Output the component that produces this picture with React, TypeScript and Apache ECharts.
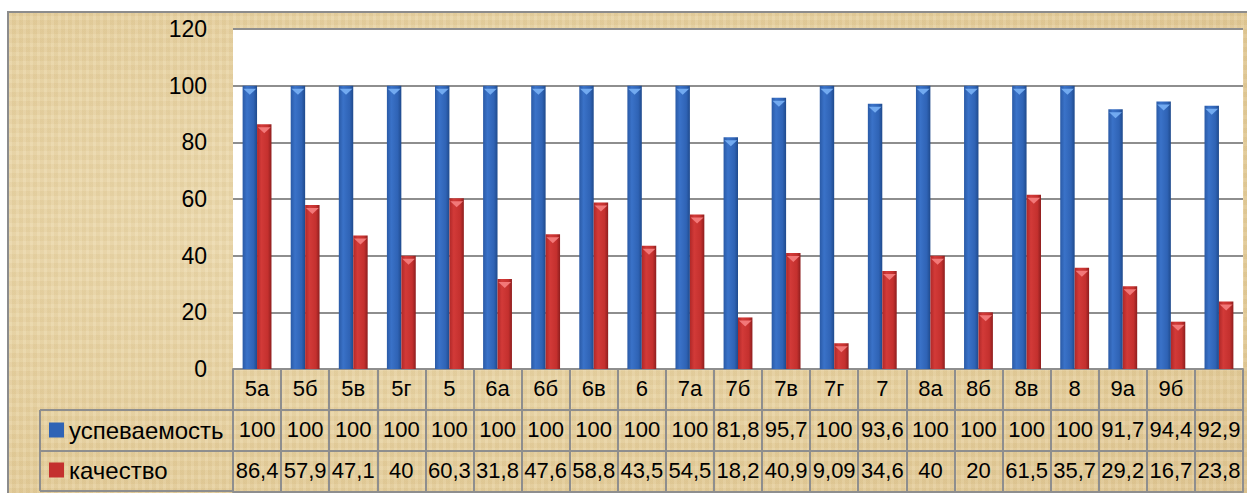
import React, { useEffect, useRef } from "react";
import * as echarts from "echarts";

const categories = ["5а", "5б", "5в", "5г", "5", "6а", "6б", "6в", "6", "7а", "7б", "7в", "7г", "7", "8а", "8б", "8в", "8", "9а", "9б", ""];
const seriesNames = ["успеваемость", "качество"];
const uspev = [100, 100, 100, 100, 100, 100, 100, 100, 100, 100, 81.8, 95.7, 100, 93.6, 100, 100, 100, 100, 91.7, 94.4, 92.9];
const kach = [86.4, 57.9, 47.1, 40, 60.3, 31.8, 47.6, 58.8, 43.5, 54.5, 18.2, 40.9, 9.09, 34.6, 40, 20, 61.5, 35.7, 29.2, 16.7, 23.8];
const yTicks = { min: 0, max: 120, interval: 20 };

const FONT = "Liberation Sans";
const GRID_LINE = "#8e8e8e";

const fmt = (v: number) => String(v).replace(".", ",");

const blueGrad = new echarts.graphic.LinearGradient(0, 0, 1, 0, [
  { offset: 0, color: "#2a5aa6" },
  { offset: 0.3, color: "#3a72c8" },
  { offset: 0.75, color: "#2f63b5" },
  { offset: 1, color: "#1f4a8c" },
]);
const redGrad = new echarts.graphic.LinearGradient(0, 0, 1, 0, [
  { offset: 0, color: "#b02828" },
  { offset: 0.3, color: "#d23a38" },
  { offset: 0.75, color: "#c4302e" },
  { offset: 1, color: "#8e1e1e" },
]);

export default function App() {
  const ref = useRef<HTMLDivElement>(null);
  useEffect(() => {
    if (!ref.current) return;
    const chart = echarts.init(ref.current, null, { renderer: "svg" });
    const gridLeft = 233;
    const gridRight = 4;
    const gridTop = 29;
    const gridBottomY = 369;
    const H = 493;
    const rowH = 41;
    const textStyle = { fontFamily: FONT, color: "#000" };
    const tableAxis = (idx: number, values: string[] | null) => ({
      type: "category",
      data: categories,
      position: "bottom",
      gridIndex: 0,
      offset: idx * rowH,
      boundaryGap: true,
      axisLine: { show: true, lineStyle: { color: GRID_LINE, width: 2 } },
      axisTick: {
        show: values !== null || idx < 3,
        interval: 0,
        length: idx < 3 ? rowH : 0,
        lineStyle: { color: GRID_LINE, width: 2 },
      },
      axisLabel: {
        show: values !== null,
        interval: 0,
        hideOverlap: false,
        margin: 8,
        fontSize: 22,
        fontFamily: FONT,
        color: "#000",
        formatter: (_v: string, i: number) => (values ? values[i] : ""),
      },
      splitLine: { show: false },
    });
    const legendBase = {
      left: 49,
      padding: 0,
      itemWidth: 15,
      itemHeight: 15,
      icon: "rect",
      textStyle: { fontSize: 24, fontFamily: FONT, color: "#000" },
    };
    chart.setOption({
      animation: false,
      backgroundColor: "transparent",
      textStyle,
      grid: {
        left: gridLeft,
        right: gridRight,
        top: gridTop,
        bottom: H - gridBottomY,
        show: true,
        backgroundColor: "#ffffff",
        borderWidth: 0,
      },
      legend: [
        {
          ...legendBase,
          data: [{ name: seriesNames[0], itemStyle: { color: "#2f63b5" } }],
          top: 418,
        },
        {
          ...legendBase,
          data: [{ name: seriesNames[1], itemStyle: { color: "#c4302e" } }],
          top: 458,
        },
      ],
      xAxis: [
        tableAxis(0, categories),
        tableAxis(1, uspev.map(fmt)),
        tableAxis(2, kach.map(fmt)),
        tableAxis(3, null),
      ],
      yAxis: {
        type: "value",
        min: yTicks.min,
        max: yTicks.max,
        interval: yTicks.interval,
        axisLine: { show: false },
        axisTick: { show: false },
        axisLabel: { fontSize: 23, fontFamily: FONT, color: "#000", margin: 26 },
        splitLine: { lineStyle: { color: GRID_LINE, width: 2 } },
      },
      series: [
        {
          name: seriesNames[0],
          type: "bar",
          data: uspev,
          barGap: "0%",
          barCategoryGap: "40%",
          itemStyle: { color: blueGrad },
        },
        {
          name: seriesNames[1],
          type: "bar",
          data: kach,
          barGap: "0%",
          barCategoryGap: "40%",
          itemStyle: { color: redGrad },
        },
        {
          name: seriesNames[0] + "_top",
          type: "pictorialBar",
          data: uspev,
          barGap: "0%",
          barCategoryGap: "40%",
          symbol: "triangle",
          symbolRotate: 180,
          symbolSize: [13, 6],
          symbolPosition: "end",
          symbolOffset: [0, 3],
          itemStyle: { color: "#72aaf0" },
          z: 5,
          legendHoverLink: false,
        },
        {
          name: seriesNames[1] + "_top",
          type: "pictorialBar",
          data: kach,
          barGap: "0%",
          barCategoryGap: "40%",
          symbol: "triangle",
          symbolRotate: 180,
          symbolSize: [13, 6],
          symbolPosition: "end",
          symbolOffset: [0, 3],
          itemStyle: { color: "#f27878" },
          z: 5,
          legendHoverLink: false,
        },
      ],
      graphic: [
        { type: "line", shape: { x1: 40, y1: 410, x2: gridLeft, y2: 410 }, style: { stroke: GRID_LINE, lineWidth: 2 } },
        { type: "line", shape: { x1: 40, y1: 451, x2: gridLeft, y2: 451 }, style: { stroke: GRID_LINE, lineWidth: 2 } },
        { type: "line", shape: { x1: 40, y1: 491, x2: gridLeft, y2: 491 }, style: { stroke: GRID_LINE, lineWidth: 2 } },
        { type: "line", shape: { x1: 40, y1: 410, x2: 40, y2: 491 }, style: { stroke: GRID_LINE, lineWidth: 2 } },
      ],
    });
    return () => chart.dispose();
  }, []);
  return (
    <div style={{ position: "fixed", left: 0, top: 0, width: 1247, height: 493, background: "#ffffff", overflow: "hidden" }}>
      <div
        style={{
          position: "absolute",
          left: 7,
          top: 11,
          width: 1270,
          height: 520,
          border: "2px solid #8c8c8c",
          background:
            "repeating-linear-gradient(90deg, rgba(255,255,255,0.07) 0px, rgba(255,255,255,0.07) 3px, rgba(120,90,40,0.03) 3px, rgba(120,90,40,0.03) 7px), repeating-linear-gradient(0deg, rgba(255,255,255,0.06) 0px, rgba(255,255,255,0.06) 4px, rgba(120,90,40,0.03) 4px, rgba(120,90,40,0.03) 9px), radial-gradient(ellipse at 30% 40%, #eedcb0 0%, #e6cf9c 60%, #e0c692 100%)",
        }}
      />
      <div ref={ref} style={{ position: "absolute", left: 0, top: 0, width: 1247, height: 493 }} />
    </div>
  );
}
